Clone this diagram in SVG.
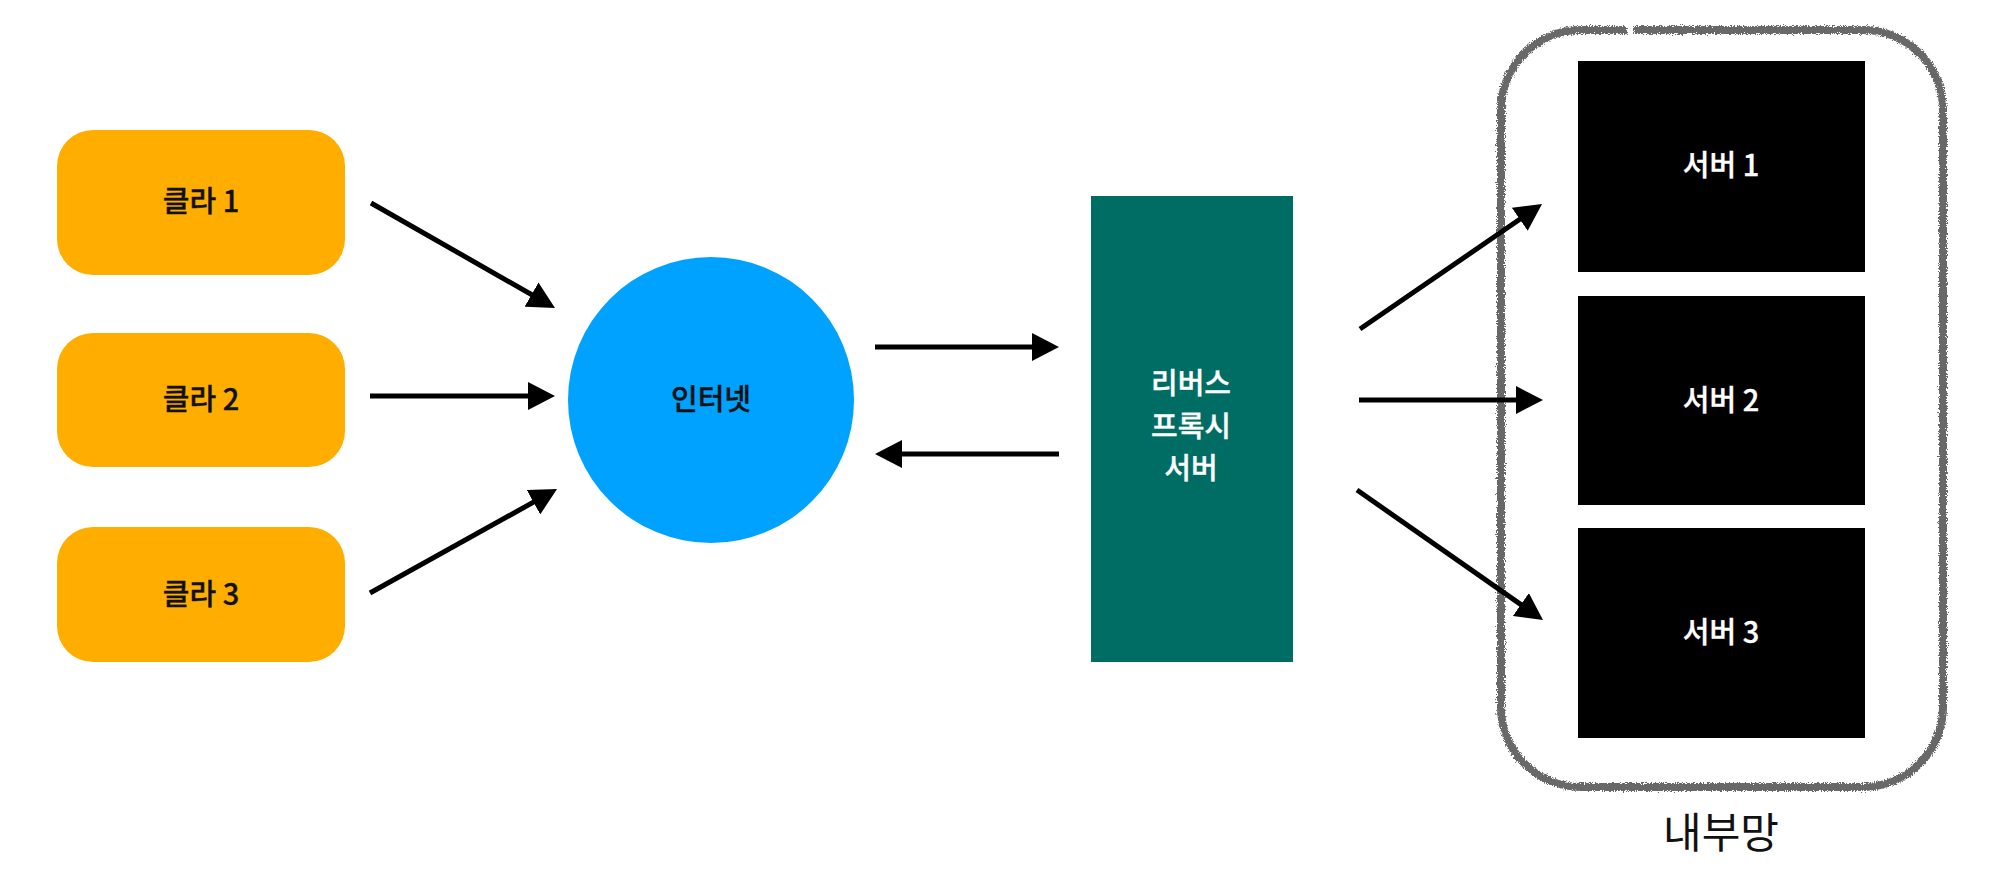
<svg xmlns="http://www.w3.org/2000/svg" width="2000" height="870" viewBox="0 0 2000 870">
<style>
.client{fill:#FFAE00}
.server{fill:#000000}
.t{font-family:"Noto Sans CJK KR","Noto Sans",sans-serif;font-size:29px;text-anchor:middle;font-weight:500;stroke-width:0.35px}
.dark{fill:#111111;stroke:#111111}
.light{fill:#FFFFFF;stroke:#FFFFFF}
.conn{stroke:#000;stroke-width:5;fill:none;marker-end:url(#ah)}
</style>
<defs>
<marker id="ah" markerUnits="userSpaceOnUse" markerWidth="28" markerHeight="28" refX="17" refY="14" orient="auto" viewBox="0 0 28 28">
<path d="M0,0 L27,14 L0,28 z" fill="#000"/>
</marker>
<filter id="pencil" x="-5%" y="-5%" width="110%" height="110%">
<feTurbulence type="fractalNoise" baseFrequency="0.9" numOctaves="2" seed="3" result="n"/>
<feDisplacementMap in="SourceGraphic" in2="n" scale="6" xChannelSelector="R" yChannelSelector="G"/>
</filter>
</defs>
<rect width="2000" height="870" fill="#FFFFFF"/>

<g id="internal-network">
<path d="M1634,30 H1863 A80,80 0 0 1 1943,110 V707 A80,80 0 0 1 1863,787 H1581 A80,80 0 0 1 1501,707 V110 A80,80 0 0 1 1581,30 H1627" fill="none" stroke="#686868" stroke-width="8" filter="url(#pencil)"/>
<text x="1721" y="848" font-family="Noto Sans CJK KR, Noto Sans, sans-serif" font-size="42" text-anchor="middle" fill="#111">내부망</text>
</g>

<g id="client1">
<rect class="client" x="57" y="130" width="288" height="145" rx="36"/>
<text class="t dark" x="201" y="212">클라 1</text>
</g>
<g id="client2">
<rect class="client" x="57" y="333" width="288" height="134" rx="36"/>
<text class="t dark" x="201" y="410">클라 2</text>
</g>
<g id="client3">
<rect class="client" x="57" y="527" width="288" height="135" rx="36"/>
<text class="t dark" x="201" y="605">클라 3</text>
</g>

<g id="internet">
<circle cx="711" cy="400" r="143" fill="#00A2FF"/>
<text class="t dark" x="711" y="410">인터넷</text>
</g>

<g id="proxy">
<rect x="1091" y="196" width="202" height="466" fill="#006D65"/>
<text class="t light" x="1191" y="394">리버스</text>
<text class="t light" x="1191" y="437">프록시</text>
<text class="t light" x="1191" y="479">서버</text>
</g>

<g id="server1">
<rect class="server" x="1578" y="61" width="287" height="211"/>
<text class="t light" x="1721" y="176">서버 1</text>
</g>
<g id="server2">
<rect class="server" x="1578" y="296" width="287" height="209"/>
<text class="t light" x="1721" y="411">서버 2</text>
</g>
<g id="server3">
<rect class="server" x="1578" y="528" width="287" height="210"/>
<text class="t light" x="1721" y="643">서버 3</text>
</g>

<g id="connectors">
<line class="conn" x1="371" y1="203" x2="546.3" y2="303"/>
<line class="conn" x1="370" y1="396" x2="545" y2="396"/>
<line class="conn" x1="370" y1="593" x2="548.3" y2="493.9"/>
<line class="conn" x1="875" y1="347" x2="1049" y2="347"/>
<line class="conn" x1="1059" y1="454" x2="885" y2="454"/>
<line class="conn" x1="1360" y1="329" x2="1533.8" y2="209.7"/>
<line class="conn" x1="1359" y1="400" x2="1533" y2="400"/>
<line class="conn" x1="1357" y1="490" x2="1534.8" y2="614.3"/>
</g>
</svg>
